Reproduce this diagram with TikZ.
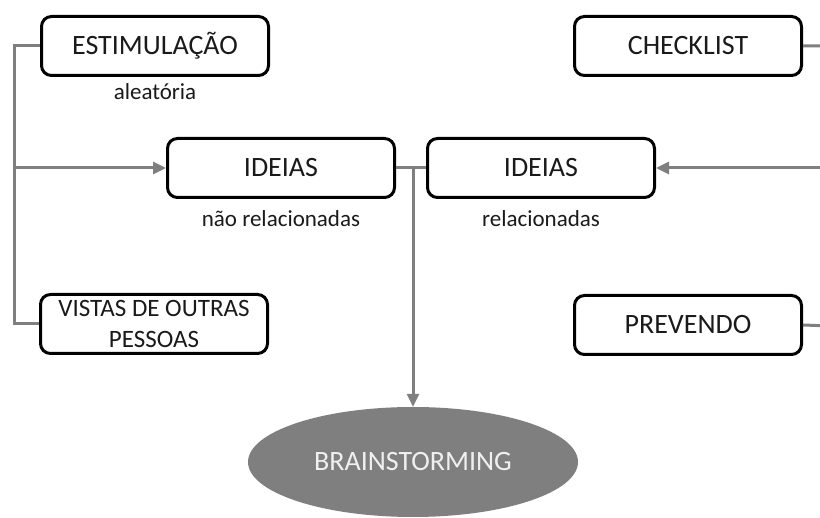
\documentclass[tikz,border=0pt]{standalone}
\usepackage{fontspec}
\setmainfont{Carlito}
\usetikzlibrary{positioning, arrows.meta, shapes.geometric}
\definecolor{LinkGray}{HTML}{7F7F7F}
\definecolor{InkDark}{HTML}{1A1A1A}

\begin{document}
\begin{tikzpicture}[
      x=1pt, y=-1pt,
      box/.style={draw=black, line width=3pt, rounded corners=10pt, fill=white,
        minimum width=227pt, minimum height=59pt, inner sep=2pt, align=center,
        text=InkDark, font=\fontsize{28}{31}\selectfont},
      sub/.style={text=InkDark, inner sep=0pt, font=\fontsize{23}{27}\selectfont},
      link/.style={LinkGray, line width=3pt},
      arrow/.style={link, -{Triangle[width=12pt,length=13pt]}},
      brain/.style={ellipse, fill=LinkGray, minimum width=330pt, minimum height=110pt,
        text=white!94!black, font=\fontsize{28}{31}\selectfont}
  ]
    \useasboundingbox (0,0) rectangle (820,518);
    \clip (0,0) rectangle (820,518);
    % boxes
    \node[box](estim) at (155,46){ESTIMULAÇÃO};
    \node[box](check) at (688,46){CHECKLIST};
    \node[box](naorel) at (281,168){IDEIAS};
    \node[box](rel) at (541,168){IDEIAS};
    \node[box, font=\fontsize{25}{31}\selectfont](vistas) at (154,324){VISTAS DE OUTRAS\\PESSOAS};
    \node[box](prev) at (688,325){PREVENDO};
    \node[brain](brainst) at (413,462){BRAINSTORMING};
    % small labels
    \node[sub, below=6pt of estim](estimsub){aleatória};
    \node[sub, below=11pt of naorel](naorelsub){não relacionadas};
    \node[sub, below=11pt of rel](relsub){relacionadas};
    % buses
    \coordinate (lbus) at (14,324);
    \coordinate (rbus) at (830,326);
    \draw[link](estim.west) -| (lbus) -- (vistas.west);
    \draw[link](check.east) -| (rbus) -- (prev.east);
    \draw[arrow](lbus |- naorel.west) -- (naorel.west);
    \draw[arrow](rbus |- rel.east) -- (rel.east);
    \draw[link](naorel.east) -- (rel.west);
    \draw[arrow](brainst.north |- naorel.east) -- (brainst.north);
  \end{tikzpicture}
\end{document}
